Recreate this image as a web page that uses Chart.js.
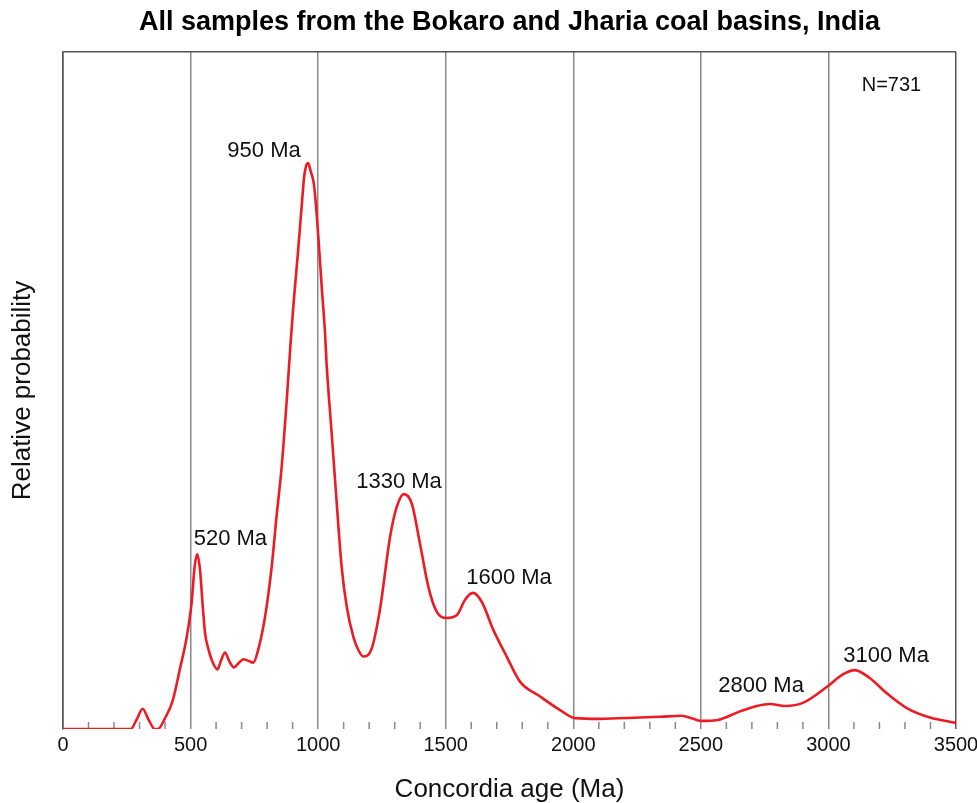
<!DOCTYPE html>
<html>
<head>
<meta charset="utf-8">
<script src="https://cdn.jsdelivr.net/npm/chart.js@4/dist/chart.umd.min.js"></script>
<style>
  html, body { margin: 0; padding: 0; background: #fff; }
  #wrap { width: 977px; height: 803px; }
</style>
</head>
<body>
<div id="wrap"><canvas id="chartCanvas"></canvas></div>
<script>
// ages (Ma) and relative probability
const ages = [0, 100, 200, 265, 290, 312, 335, 360, 372, 400, 430, 459, 485, 504, 516, 526, 537, 548, 557, 570, 583, 605, 620, 635, 652, 670, 690, 707, 725, 746, 765, 792, 818, 837, 857, 877, 892, 905, 920, 935, 945, 953, 961, 970, 984, 997, 1014, 1027, 1033, 1053, 1072, 1092, 1112, 1138, 1157, 1177, 1210, 1242, 1282, 1308, 1336, 1367, 1399, 1432, 1465, 1504, 1543, 1576, 1606, 1641, 1687, 1739, 1791, 1870, 1948, 2007, 2105, 2261, 2340, 2425, 2470, 2503, 2562, 2653, 2719, 2771, 2830, 2902, 2993, 3058, 3104, 3163, 3228, 3307, 3398, 3500];
const probs = [0, 0, 0, 0, 1.5, 3.0, 1.4, 0, 0, 1.6, 4.2, 9.0, 13.6, 18.6, 24.0, 25.8, 23.5, 18.0, 14.1, 11.8, 10.2, 8.8, 10.2, 11.3, 10.0, 9.1, 9.8, 10.3, 10.1, 9.8, 11.7, 16.6, 24.0, 31.4, 38.7, 48.6, 57.0, 63.5, 70.0, 77.0, 81.5, 83.2, 83.6, 82.5, 80.3, 74.7, 65.3, 58.5, 54.0, 43.7, 33.8, 24.0, 18.1, 13.6, 11.7, 10.7, 11.9, 17.6, 28.4, 32.8, 34.7, 33.3, 27.4, 21.0, 17.3, 16.4, 16.8, 19.1, 20.1, 18.8, 14.6, 10.7, 7.0, 4.8, 2.8, 1.6, 1.5, 1.7, 1.8, 1.95, 1.5, 1.2, 1.3, 2.6, 3.4, 3.7, 3.4, 3.9, 6.2, 8.1, 8.7, 7.5, 5.3, 3.1, 1.7, 0.9];

// peak labels
const peakLabels = ['950 Ma', '520 Ma', '1330 Ma', '1600 Ma', '2800 Ma', '3100 Ma'];
const sampleCount = 'N=731';

const FONT = 'Arial, "Liberation Sans", Helvetica, sans-serif';

// label anchor points in data units (age, prob), text centred on them
const labelSpots = [
  [788, 85.4], [656, 28.1], [1317, 36.5], [1748, 22.3], [2736, 6.35], [3226, 10.8]
];

const minorTicksPlugin = {
  id: 'minorTicks',
  beforeDatasetsDraw: (chart) => {
    const { ctx, chartArea: { bottom }, scales: { x } } = chart;
    ctx.save();
    ctx.strokeStyle = '#888';
    ctx.lineWidth = 1.5;
    for (let v = 100; v < 3500; v += 100) {
      if (v % 500 === 0) continue;
      const px = x.getPixelForValue(v);
      ctx.beginPath();
      ctx.moveTo(px, bottom);
      ctx.lineTo(px, bottom - 7);
      ctx.stroke();
    }
    ctx.restore();
  }
};

const labelsPlugin = {
  id: 'peakText',
  afterDraw: (chart) => {
    const { ctx, scales: { x, y } } = chart;
    ctx.save();
    ctx.fillStyle = '#111';
    ctx.font = '22px ' + FONT;
    ctx.textAlign = 'center';
    ctx.textBaseline = 'middle';
    peakLabels.forEach((t, i) => {
      ctx.fillText(t, x.getPixelForValue(labelSpots[i][0]), y.getPixelForValue(labelSpots[i][1]));
    });
    ctx.font = '20px ' + FONT;
    ctx.fillText(sampleCount, x.getPixelForValue(3247), y.getPixelForValue(95.0));
    ctx.restore();
  }
};

const ctx = document.getElementById('chartCanvas').getContext('2d');

new Chart(ctx, {
  type: 'line',
  data: {
    datasets: [{
      label: 'Relative probability',
      data: ages.map((a, i) => ({ x: a, y: probs[i] })),
      borderColor: '#ed1c24',
      borderWidth: 2.6,
      pointRadius: 0,
      fill: false,
      cubicInterpolationMode: 'monotone'
    }]
  },
  options: {
    responsive: true,
    maintainAspectRatio: false,
    animation: false,
    layout: { padding: { left: 0, right: 21, top: 0, bottom: 0 } },
    scales: {
      x: {
        type: 'linear',
        min: 0,
        max: 3500,
        afterFit: (scale) => {
          scale.height = 74;
          scale.paddingRight = 0;
          scale.paddingLeft = 0;
        },
        border: { display: false },
        grid: {
          drawTicks: false,
          lineWidth: 1.5,
          color: (c) => {
            const v = c.tick.value;
            if (v === 0 || v === 3500) return '#555';
            return v % 500 === 0 ? '#888' : 'rgba(0,0,0,0)';
          }
        },
        ticks: {
          stepSize: 100,
          autoSkip: false,
          maxRotation: 0,
          padding: 4,
          color: '#111',
          font: { size: 20, family: FONT },
          callback: (v) => (v % 500 === 0 ? v : '')
        },
        title: {
          display: true,
          text: 'Concordia age (Ma)',
          color: '#111',
          font: { size: 26, family: FONT, lineHeight: 1 },
          padding: { top: 0, bottom: 0 }
        }
      },
      y: {
        min: 0,
        max: 100,
        afterFit: (scale) => { scale.width = 63; },
        border: { display: true, color: '#555', width: 1.5 },
        grid: {
          drawTicks: false,
          lineWidth: 1.5,
          color: (c) => (c.tick.value === 100 ? '#555' : 'rgba(0,0,0,0)')
        },
        ticks: { display: false, stepSize: 100 },
        title: {
          display: true,
          text: 'Relative probability',
          color: '#111',
          font: { size: 26, family: FONT, lineHeight: 1 },
          padding: { top: 10, bottom: 0 }
        }
      }
    },
    plugins: {
      legend: { display: false },
      tooltip: { enabled: false },
      title: {
        display: true,
        fullSize: false,
        text: 'All samples from the Bokaro and Jharia coal basins, India',
        color: '#000',
        font: { size: 27, weight: 'bold', family: FONT, lineHeight: 1 },
        padding: { top: 9, bottom: 16 }
      }
    }
  },
  plugins: [minorTicksPlugin, labelsPlugin]
});
</script>
</body>
</html>
